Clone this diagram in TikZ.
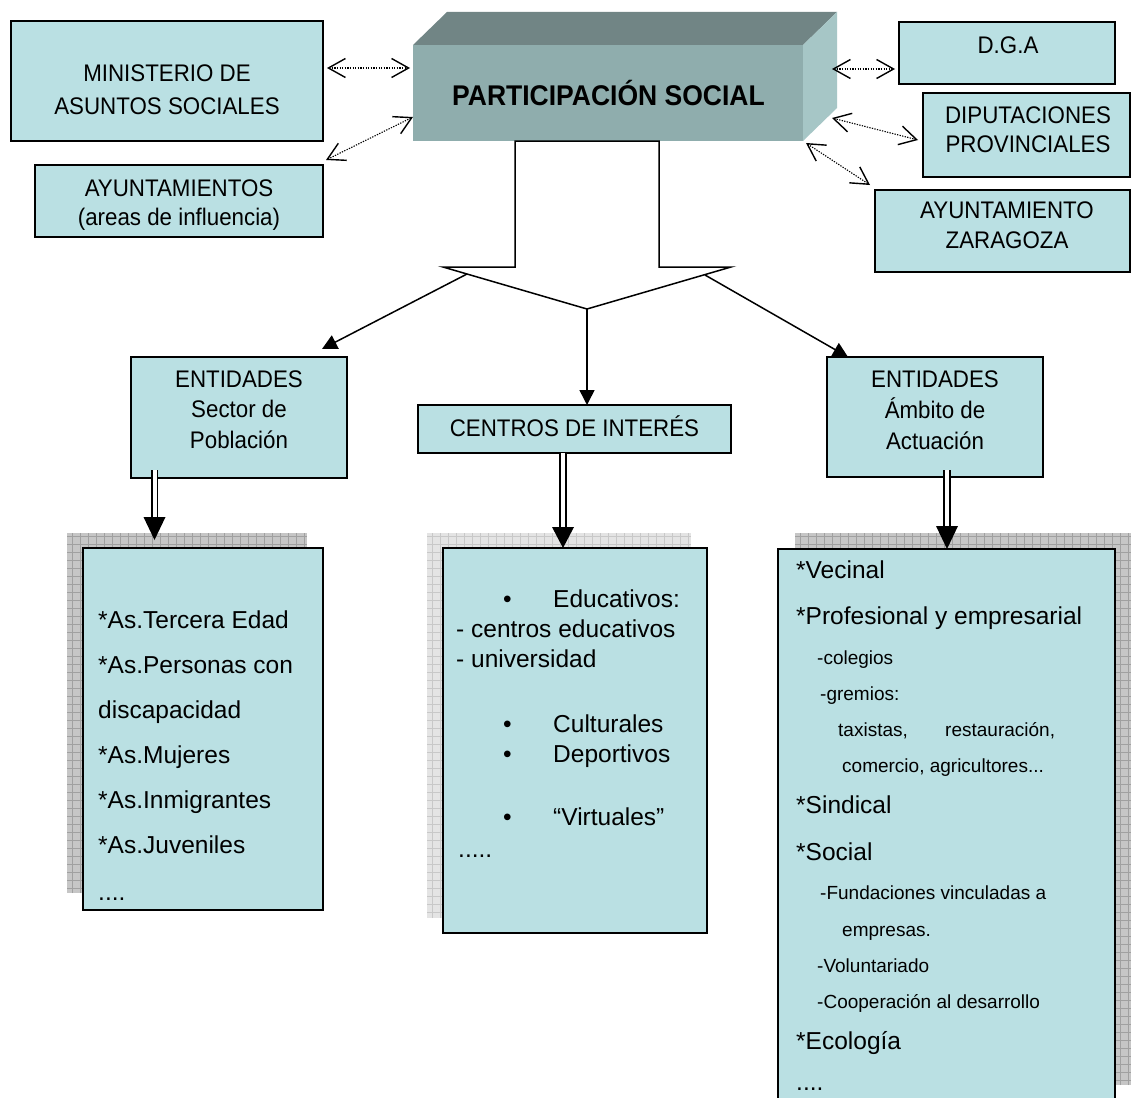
\documentclass[tikz,border=0pt]{standalone}
\usepackage{fontspec}
\setmainfont{Liberation Sans}
\newfontfamily\narrowfont[FakeStretch=0.93]{Liberation Sans}
\usetikzlibrary{arrows.meta,calc}
\definecolor{boxc}{RGB}{186,224,227}
\definecolor{frontc}{RGB}{143,173,173}
\definecolor{topc}{RGB}{113,133,133}
\definecolor{sidec}{RGB}{166,198,198}
\definecolor{shadowc}{RGB}{198,198,198}
\definecolor{gridc}{RGB}{160,160,160}
\definecolor{shadowl}{RGB}{228,228,228}
\definecolor{gridl}{RGB}{200,200,200}
\tikzset{
  box/.style={draw=black, line width=1.6, fill=boxc, inner sep=0, outer sep=0},
  hd/.style={font=\narrowfont\fontsize{24}{28}\selectfont, anchor=base, inner sep=0},
  ttl/.style={font=\narrowfont\bfseries\fontsize{28.5}{32}\selectfont, anchor=base, inner sep=0},
  big/.style={font=\fontsize{24.5}{28}\selectfont, anchor=base west, inner sep=0},
  small/.style={font=\fontsize{19}{22}\selectfont, anchor=base west, inner sep=0},
  darr/.style={dash pattern=on 1.3pt off 1.3pt, line width=1.1,
    {Straight Barb[length=17,width=19,line width=1.4]}-{Straight Barb[length=17,width=19,line width=1.4]}},
  conn/.style={line width=1.5, -{Triangle[length=15,width=15]}},
  dbl/.style={line width=1.8, double=white, double distance=4},
  shad/.style={fill=shadowc},
  shadgrid/.style={draw=gridc, line width=0.6},
}
\begin{document}
\begin{tikzpicture}[x=1pt,y=-1pt]
\clip (0,0) rectangle (1131,1097);
\fill[white] (0,0) rectangle (1131,1097);

% shadows
\fill[shad] (67,533) rectangle (307,893);
\draw[shadgrid, step=8pt] (67,533) grid (307,893);
\fill[shadowl] (427,533) rectangle (691,918);
\draw[draw=gridl, line width=0.6, step=8pt] (427,533) grid (691,918);
\fill[shad] (795,533) rectangle (1132,1085);
\draw[shadgrid, step=8pt] (795,533) grid (1132,1085);

% top boxes
\node[box, minimum width=312, minimum height=120] (min) at (167,81) {};
\node[box, minimum width=288, minimum height=72] (ayu) at (179,201) {};
\node[box, minimum width=216, minimum height=62] (dga) at (1007,53) {};
\node[box, minimum width=207, minimum height=84] (dip) at (1026.5,135) {};
\node[box, minimum width=255, minimum height=82] (zar) at (1002.5,231) {};

\node[hd] (min1) at (167,82) {MINISTERIO DE};
\node[hd] (min2) at (167,114) {ASUNTOS SOCIALES};
\node[hd] (ayu1) at (179,196) {AYUNTAMIENTOS};
\node[hd] (ayu2) at (179,225) {(areas de influencia)};
\node[hd] (dga1) at (1008,54) {D.G.A};
\node[hd] (dip1) at (1028,123) {DIPUTACIONES};
\node[hd] (dip2) at (1028,152) {PROVINCIALES};
\node[hd] (zar1) at (1007,218) {AYUNTAMIENTO};
\node[hd] (zar2) at (1007,248) {ZARAGOZA};

% central 3D box
\node[fill=frontc, minimum width=390, minimum height=96, inner sep=0, outer sep=0] (ps) at (608,93) {};
\fill[topc] (ps.north west) -- ++(34,-33) -- ++(390,0) -- (ps.north east) -- cycle;
\fill[sidec] (ps.north east) -- ++(34,-33) -- ++(0,96) -- (ps.south east) -- cycle;
\node[ttl] (pst) at (608.5,106) {PARTICIPACIÓN SOCIAL};

% dotted double arrows
\draw[darr] ($(min.east)+(4,-13)$) -- ($(ps.west)+(-3,-25)$);
\draw[darr] ($(ayu.north east)+(3,-5)$) -- ($(ps.south west)+(0,-24)$);
\draw[darr] ($(ps.east)+(29,-24)$) -- ($(dga.west)+(-4,16)$);
\draw[darr] ($(ps.east)+(29,25)$) -- ($(dip.west)+(-5,5)$);
\draw[darr] ($(ps.south east)+(3,2)$) -- ($(zar.north west)+(-5,-5)$);

% hollow arrow
\draw[line width=1.5, fill=white] (515,141) -- (515,267) -- (443,267) -- (587,309)
  -- (731,267) -- (659,267) -- (659,141) -- cycle;
\coordinate (tip) at (587,309);
\coordinate (hl) at (467,274);
\coordinate (hr) at (705,275);

% middle boxes
\node[box, minimum width=216, minimum height=121] (ent1) at (239,417.5) {};
\node[box, minimum width=313, minimum height=48] (cen) at (574.5,429) {};
\node[box, minimum width=216, minimum height=120] (ent2) at (935,417) {};

\node[hd] (e11) at (239,387) {ENTIDADES};
\node[hd] (e12) at (239,417) {Sector de};
\node[hd] (e13) at (239,448) {Población};
\node[hd] (cen1) at (574.5,436) {CENTROS DE INTERÉS};
\node[hd] (e21) at (935,387) {ENTIDADES};
\node[hd] (e22) at (935,418) {Ámbito de};
\node[hd] (e23) at (935,449) {Actuación};

\draw[conn] (hl) -- ($(ent1.north east)+(-25,-8)$);
\draw[conn] (tip) -- (tip |- cen.north);
\draw[conn] (hr) -- ($(ent2.north west)+(21,0)$);

% list boxes
\node[box, minimum width=240, minimum height=362] (list1) at (203,729) {};
\node[box, minimum width=264, minimum height=385] (list2) at (575,740.5) {};
\node[box, minimum width=337, minimum height=581] (list3) at (946.5,839.5) {};

% double arrows
\coordinate (a1) at (154.5,540);
\coordinate (a2) at ($(list2.north)+(-12,0)$);
\coordinate (a3) at ($(list3.north)+(0.5,0)$);
\draw[dbl] ($(ent1.south -| a1)+(0,-8)$) -- ($(a1)+(0,-23)$);
\fill (a1) -- ++(-11,-23) -- ++(22,0) -- cycle;
\draw[dbl] (cen.south -| a2) -- ($(a2)+(0,-21)$);
\fill (a2) -- ++(-11,-21) -- ++(22,0) -- cycle;
\draw[dbl] ($(ent2.south -| a3)+(0,-7)$) -- ($(a3)+(0,-23)$);
\fill (a3) -- ++(-11,-23) -- ++(22,0) -- cycle;

% left list
\node[big] (l1) at (98,628) {*As.Tercera Edad};
\node[big] (l2) at (98,673) {*As.Personas con};
\node[big] (l3) at (98,718) {discapacidad};
\node[big] (l4) at (98,763) {*As.Mujeres};
\node[big] (l5) at (98,808) {*As.Inmigrantes};
\node[big] (l6) at (98,853) {*As.Juveniles};
\node[big] (l7) at (98,900) {....};

% middle list
\node[big] (mb1) at (503,607) {•};
\node[big] (m1) at (553,607) {Educativos:};
\node[big] (m2) at (456,637) {- centros educativos};
\node[big] (m3) at (456,667) {- universidad};
\node[big] (mb2) at (503,732) {•};
\node[big] (m4) at (553,732) {Culturales};
\node[big] (mb3) at (503,762) {•};
\node[big] (m5) at (553,762) {Deportivos};
\node[big] (mb4) at (503,825) {•};
\node[big] (m6) at (553,825) {“Virtuales”};
\node[big] (m7) at (458,857) {.....};

% right list
\node[big] (r1) at (796,578) {*Vecinal};
\node[big] (r2) at (796,624) {*Profesional y empresarial};
\node[small] (r3) at (817,664) {-colegios};
\node[small] (r4) at (820,700) {-gremios:};
\node[small] (r5) at (838,736) {taxistas,};
\node[small] (r5b) at (945,736) {restauración,};
\node[small] (r6) at (842,772) {comercio, agricultores...};
\node[big] (r7) at (796,813) {*Sindical};
\node[big] (r8) at (796,860) {*Social};
\node[small] (r9) at (820,899) {-Fundaciones vinculadas a};
\node[small] (r10) at (842,936) {empresas.};
\node[small] (r11) at (817,972) {-Voluntariado};
\node[small] (r12) at (817,1008) {-Cooperación al desarrollo};
\node[big] (r13) at (796,1049) {*Ecología};
\node[big] (r14) at (796,1090) {....};
\end{tikzpicture}
\end{document}
